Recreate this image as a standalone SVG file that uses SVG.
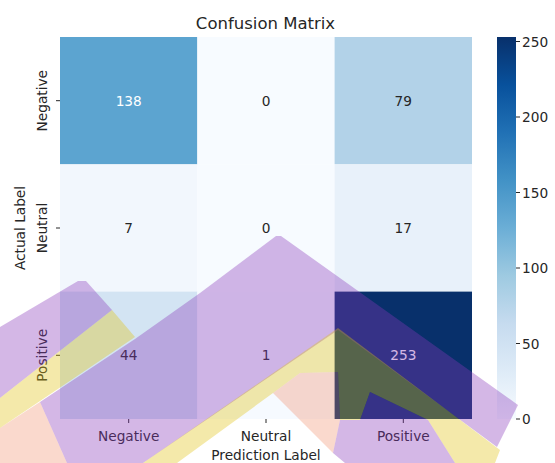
<svg xmlns="http://www.w3.org/2000/svg" width="555" height="463" viewBox="0 0 555 463">
<defs>
<linearGradient id="blues" x1="0" y1="1" x2="0" y2="0">
<stop offset="0" stop-color="#f7fbff"/>
<stop offset="0.125" stop-color="#deebf7"/>
<stop offset="0.25" stop-color="#c6dbef"/>
<stop offset="0.375" stop-color="#9ecae1"/>
<stop offset="0.5" stop-color="#6baed6"/>
<stop offset="0.625" stop-color="#4292c6"/>
<stop offset="0.75" stop-color="#2171b5"/>
<stop offset="0.875" stop-color="#08519c"/>
<stop offset="1" stop-color="#08306b"/>
</linearGradient>
<style>
text{font-family:"DejaVu Sans","Liberation Sans",sans-serif;fill:#262626}
.tick{font-size:13.7px}
.val{font-size:13.7px;text-anchor:middle}
.light{fill:#ffffff}
.mid{text-anchor:middle}
.tk{stroke:#262626;stroke-width:1}
.vi{fill:rgb(135,55,185);fill-opacity:0.36}
.ye{fill:rgb(225,195,20);fill-opacity:0.36}
.pe{fill:rgb(240,130,90);fill-opacity:0.3}
</style>
</defs>
<rect width="555" height="463" fill="#ffffff"/>
<text x="265.5" y="29" class="mid" style="font-size:16.5px">Confusion Matrix</text>
<g id="cells">
<rect x="60" y="37" width="137.4" height="127.4" fill="#5ca4d0"/>
<rect x="197.3" y="37" width="137.4" height="127.4" fill="#f7fbff"/>
<rect x="334.6" y="37" width="137.4" height="127.4" fill="#b2d2e8"/>
<rect x="60" y="164.3" width="137.4" height="127.4" fill="#f2f7fd"/>
<rect x="197.3" y="164.3" width="137.4" height="127.4" fill="#f7fbff"/>
<rect x="334.6" y="164.3" width="137.4" height="127.4" fill="#e8f1fa"/>
<rect x="60" y="291.6" width="137.4" height="127.4" fill="#d3e4f3"/>
<rect x="197.3" y="291.6" width="137.4" height="127.4" fill="#f6faff"/>
<rect x="334.6" y="291.6" width="137.4" height="127.4" fill="#08306b"/>
</g>
<g id="values">
<text x="128.7" y="106" class="val light">138</text>
<text x="266" y="106" class="val">0</text>
<text x="403.3" y="106" class="val">79</text>
<text x="128.7" y="233" class="val">7</text>
<text x="266" y="233" class="val">0</text>
<text x="403.3" y="233" class="val">17</text>
<text x="128.7" y="360" class="val">44</text>
<text x="266" y="360" class="val">1</text>
<text x="403.3" y="360" class="val light">253</text>
</g>
<g id="axes">
<line x1="56" y1="100.7" x2="60" y2="100.7" class="tk"/>
<line x1="56" y1="228" x2="60" y2="228" class="tk"/>
<line x1="56" y1="355.3" x2="60" y2="355.3" class="tk"/>
<line x1="128.7" y1="419" x2="128.7" y2="423" class="tk"/>
<line x1="266" y1="419" x2="266" y2="423" class="tk"/>
<line x1="403.3" y1="419" x2="403.3" y2="423" class="tk"/>
<text class="tick mid" transform="translate(47,100.7) rotate(-90)">Negative</text>
<text class="tick mid" transform="translate(47,228) rotate(-90)">Neutral</text>
<text class="tick mid" transform="translate(47,355.3) rotate(-90)">Positive</text>
<text class="tick mid" transform="translate(25,228) rotate(-90)">Actual Label</text>
<text x="128.7" y="441" class="tick mid">Negative</text>
<text x="266" y="441" class="tick mid">Neutral</text>
<text x="403.3" y="441" class="tick mid">Positive</text>
<text x="266" y="460" class="tick mid">Prediction Label</text>
</g>
<g id="colorbar">
<rect x="497" y="37" width="19" height="382" fill="url(#blues)"/>
<line x1="516" y1="41.5" x2="520" y2="41.5" class="tk"/>
<line x1="516" y1="117" x2="520" y2="117" class="tk"/>
<line x1="516" y1="192.5" x2="520" y2="192.5" class="tk"/>
<line x1="516" y1="268" x2="520" y2="268" class="tk"/>
<line x1="516" y1="343.5" x2="520" y2="343.5" class="tk"/>
<line x1="516" y1="419" x2="520" y2="419" class="tk"/>
<text x="522" y="46.5" class="tick">250</text>
<text x="522" y="122" class="tick">200</text>
<text x="522" y="197.5" class="tick">150</text>
<text x="522" y="273" class="tick">100</text>
<text x="522" y="348.5" class="tick">50</text>
<text x="522" y="424" class="tick">0</text>
</g>
<g id="overlay">
<polygon class="vi" points="0,327 78,281 86,281 112,310 0,398"/>
<polygon class="ye" points="0,398 112,310 135,337 0,428"/>
<polygon class="pe" points="0,428 40,402 67,463 0,463"/>
<polygon class="vi" points="67,463 40,402 135,339 200,293 276,236 281,236 518,405 497,447 338,330 143,463"/>
<polygon class="ye" points="143,463 338,328 500,450 495,463 455,463 428,420 370,392 360,420 340,420 338,372 300,373 273,393 177,463"/>
<polygon class="pe" points="273,393 300,373 338,372 340,420 333,453"/>
<polygon class="vi" points="340,420 360,420 370,392 428,420 455,463 345,463 333,453"/>
</g>
</svg>
